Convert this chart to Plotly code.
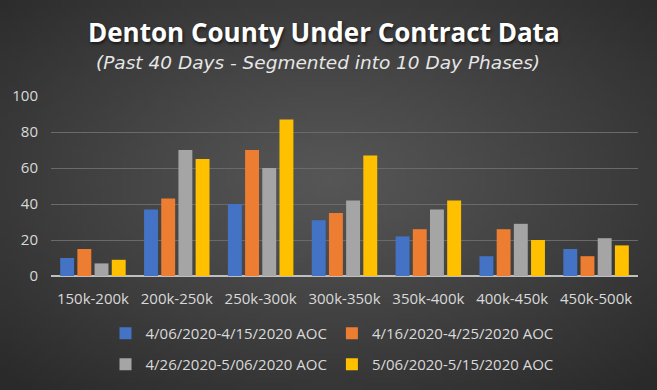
import base64
import struct
import zlib

import plotly.graph_objects as go

categories = ["150k-200k", "200k-250k", "250k-300k", "300k-350k", "350k-400k", "400k-450k", "450k-500k"]
series_names = [
    "4/06/2020-4/15/2020 AOC",
    "4/16/2020-4/25/2020 AOC",
    "4/26/2020-5/06/2020 AOC",
    "5/06/2020-5/15/2020 AOC",
]
phase1 = [10, 37, 40, 31, 22, 11, 15]
phase2 = [15, 43, 70, 35, 26, 26, 11]
phase3 = [7, 70, 60, 42, 37, 29, 21]
phase4 = [9, 65, 87, 67, 42, 20, 17]
y_ticks = [0, 20, 40, 60, 80, 100]

colors = ["#4472C4", "#ED7D31", "#A5A5A5", "#FFC000"]
values = [phase1, phase2, phase3, phase4]
legends = ["legend", "legend", "legend2", "legend2"]

W, H = 657, 390
ML, MR, MT, MB = 51, 19, 96, 114
PW, PH = W - ML - MR, H - MT - MB


def radial_png(w=132, h=78, c_in=86, c_out=42):
    rows = []
    for j in range(h):
        row = bytearray([0])
        for i in range(w):
            dx = (i + 0.5 - w * 0.5) / (w * 0.5)
            dy = (j + 0.5 - h * 0.46) / (h * 0.5)
            d = min(1.0, ((dx * dx + dy * dy) / 2.0) ** 0.5)
            v = int(round(c_in + (c_out - c_in) * d ** 1.1))
            row += bytes([v, v, v])
        rows.append(bytes(row))
    raw = b"".join(rows)

    def chunk(tag, data):
        c = struct.pack(">I", len(data)) + tag + data
        return c + struct.pack(">I", zlib.crc32(tag + data) & 0xFFFFFFFF)

    png = b"\x89PNG\r\n\x1a\n"
    png += chunk(b"IHDR", struct.pack(">IIBBBBB", w, h, 8, 2, 0, 0, 0))
    png += chunk(b"IDAT", zlib.compress(raw, 9))
    png += chunk(b"IEND", b"")
    return "data:image/png;base64," + base64.b64encode(png).decode()


fig = go.Figure()
for name, vals, col, lg in zip(series_names, values, colors, legends):
    fig.add_trace(go.Bar(
        x=categories, y=vals, name=name, marker=dict(color=col, line=dict(width=0)),
        legend=lg,
    ))

font_main = "Open Sans"


def px_x(x):
    return (x - ML) / PW


def px_y(y):
    return (H - MB - y) / PH


fig.update_layout(
    width=W, height=H,
    paper_bgcolor="#3c3c3c", plot_bgcolor="rgba(0,0,0,0)",
    margin=dict(l=ML, r=MR, t=MT, b=MB, autoexpand=False),
    barmode="group", bargap=0.18, bargroupgap=0.19,
    font=dict(family=font_main, color="#d9d9d9", size=15),
    images=[dict(
        source=radial_png(), xref="paper", yref="paper",
        x=px_x(0), y=px_y(0), sizex=W / PW, sizey=H / PH,
        xanchor="left", yanchor="top", sizing="stretch", layer="below",
    )],
    annotations=[
        dict(text="<b>Denton County Under Contract Data</b>", xref="paper", yref="paper",
             x=px_x(324), y=px_y(32), xanchor="center", yanchor="middle", showarrow=False,
             font=dict(family=font_main, size=26, color="white", shadow="1px 2px 3px #1a1a1a")),
        dict(text="<i>(Past 40 Days - Segmented into 10 Day Phases)</i>", xref="paper", yref="paper",
             x=px_x(318), y=px_y(62), xanchor="center", yanchor="middle", showarrow=False,
             font=dict(family="DejaVu Sans", size=18.5, color="#e6e6e6")),
    ],
    xaxis=dict(
        showgrid=False, showline=False, ticks="", zeroline=False,
        tickfont=dict(size=15, color="#d9d9d9"), ticklabelstandoff=12,
    ),
    yaxis=dict(
        range=[0, 100], tickvals=y_ticks, showgrid=True, gridcolor="#6a6a6a", gridwidth=1,
        zeroline=True, zerolinecolor="#bfbfbf", zerolinewidth=2,
        ticks="", tickfont=dict(size=15, color="#d9d9d9"), ticklabelstandoff=12,
    ),
    legend=dict(
        orientation="h", x=px_x(332), xanchor="center", y=-0.228, yanchor="top",
        font=dict(size=15, color="#d9d9d9"), bgcolor="rgba(0,0,0,0)",
        traceorder="normal",
    ),
    legend2=dict(
        orientation="h", x=px_x(332), xanchor="center", y=-0.40, yanchor="top",
        font=dict(size=15, color="#d9d9d9"), bgcolor="rgba(0,0,0,0)",
        traceorder="normal",
    ),
)

fig.write_html(
    "out.html",
    config={"displayModeBar": False},
    post_script="document.body.style.margin='0';document.body.style.overflow='hidden';",
)
